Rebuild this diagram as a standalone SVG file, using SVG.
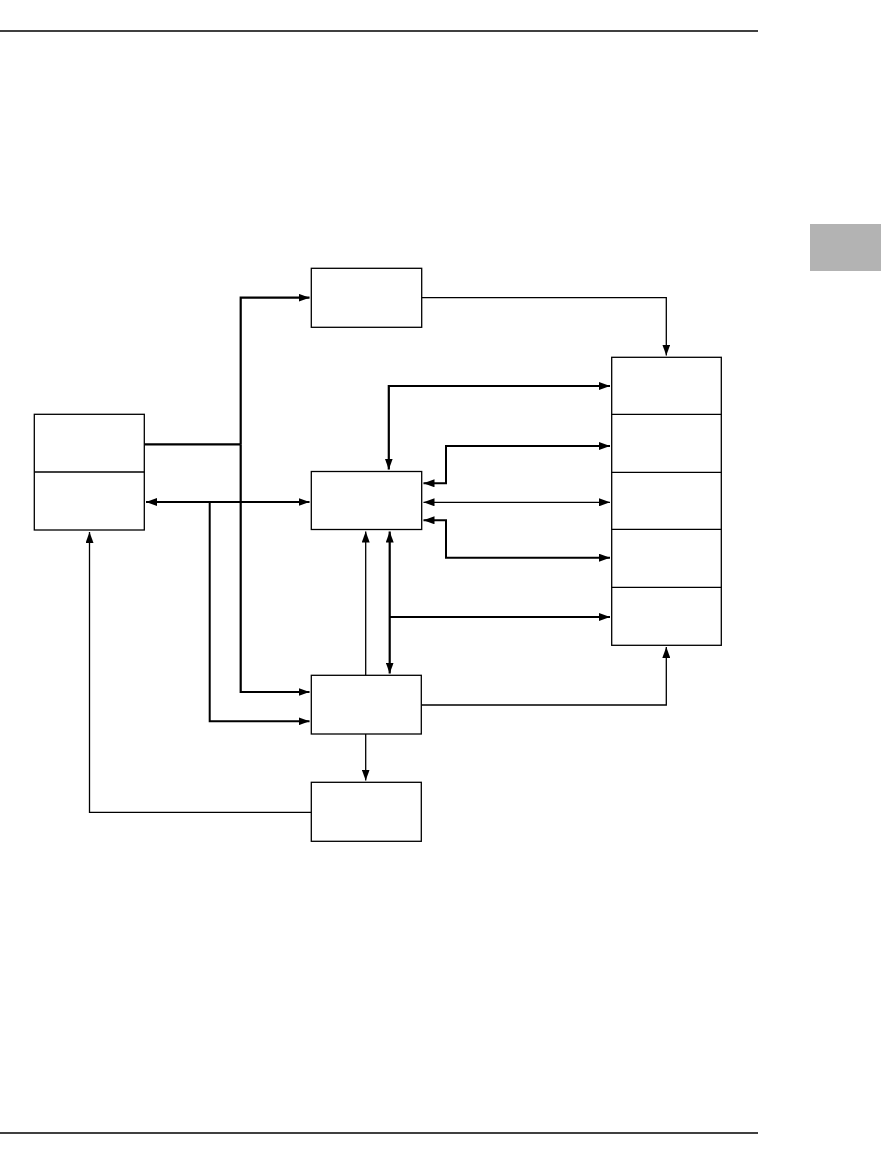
<svg xmlns="http://www.w3.org/2000/svg" width="881" height="1157" viewBox="0 0 881 1157">
<style>
.box{fill:#fff;stroke:#000;stroke-width:1.3}
.thick{fill:none;stroke:#000;stroke-width:2.2}
.med{fill:none;stroke:#000;stroke-width:2}
.thin{fill:none;stroke:#000;stroke-width:1.3}
</style>
<defs>
<marker id="ah" markerUnits="userSpaceOnUse" markerWidth="12" markerHeight="8" refX="11" refY="4" orient="auto-start-reverse">
<path d="M0,0 L11,4 L0,8 Z" fill="#000"/>
</marker>
</defs>
<rect width="881" height="1157" fill="#fff"/>
<line x1="0" y1="31" x2="758" y2="31" stroke="#000" stroke-width="1.3"/>
<line x1="0" y1="1133" x2="758" y2="1133" stroke="#000" stroke-width="1.3"/>
<rect x="810" y="224" width="71" height="47" fill="#b3b3b3"/>
<g id="connectors">
<polyline class="thick" points="144.3,444.3 240.7,444.3"/>
<polyline class="thick" points="240.7,444.3 240.7,297.7 309.5,297.7" marker-end="url(#ah)"/>
<polyline class="thick" points="240.7,444.3 240.7,692 309.5,692" marker-end="url(#ah)"/>
<line class="thick" x1="146" y1="502" x2="309.5" y2="502" marker-start="url(#ah)" marker-end="url(#ah)"/>
<polyline class="med" points="209.7,502 209.7,721.3 309.5,721.3" marker-end="url(#ah)"/>
<polyline class="thin" points="421.7,297.7 666.3,297.7 666.3,355.5" marker-end="url(#ah)"/>
<polyline class="thick" points="388.8,469.5 388.8,386 610,386" marker-start="url(#ah)" marker-end="url(#ah)"/>
<polyline class="med" points="423.5,483.3 446,483.3 446,446 610,446" marker-start="url(#ah)" marker-end="url(#ah)"/>
<line class="thin" x1="423.5" y1="502.3" x2="610" y2="502.3" marker-start="url(#ah)" marker-end="url(#ah)"/>
<polyline class="med" points="423.5,520.3 446,520.3 446,557.7 610,557.7" marker-start="url(#ah)" marker-end="url(#ah)"/>
<line class="thin" x1="365.7" y1="675.3" x2="365.7" y2="531.5" marker-end="url(#ah)"/>
<line class="thick" x1="389.7" y1="531.5" x2="389.7" y2="673.5" marker-start="url(#ah)" marker-end="url(#ah)"/>
<polyline class="thick" points="389.7,617 610,617" marker-end="url(#ah)"/>
<polyline class="thin" points="421.3,705 666.3,705 666.3,647" marker-end="url(#ah)"/>
<line class="thin" x1="365.7" y1="734" x2="365.7" y2="780.5" marker-end="url(#ah)"/>
<polyline class="thin" points="311.3,812.3 89.5,812.3 89.5,532" marker-end="url(#ah)"/>
</g>
<g id="top-box"><rect class="box" x="311.3" y="268.3" width="110.4" height="59"/></g>
<g id="left-box"><rect class="box" x="34.3" y="414.3" width="110" height="115.7"/><line class="box" x1="34.3" y1="472" x2="144.3" y2="472"/></g>
<g id="middle-box"><rect class="box" x="311.3" y="471.5" width="110.4" height="58"/></g>
<g id="right-stack">
<rect class="box" x="611.7" y="357.3" width="109.6" height="288"/>
<line class="box" x1="611.7" y1="414.3" x2="721.3" y2="414.3"/>
<line class="box" x1="611.7" y1="472.3" x2="721.3" y2="472.3"/>
<line class="box" x1="611.7" y1="529.3" x2="721.3" y2="529.3"/>
<line class="box" x1="611.7" y1="587.3" x2="721.3" y2="587.3"/>
</g>
<g id="lower-box"><rect class="box" x="311.3" y="675.3" width="110" height="58.7"/></g>
<g id="bottom-box"><rect class="box" x="311.3" y="782.3" width="110" height="59"/></g>
</svg>
